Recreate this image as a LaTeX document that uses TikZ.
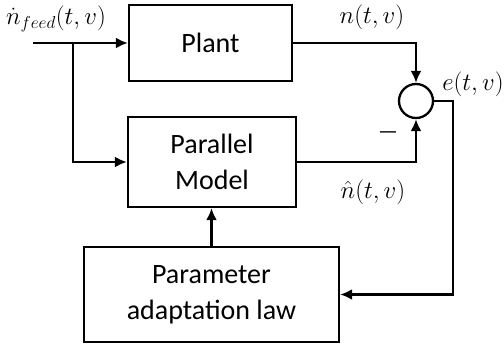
\documentclass[tikz,border=0pt]{standalone}
\usepackage{fontspec}
\setmainfont{Carlito}
\usetikzlibrary{arrows.meta}
\begin{document}
\begin{tikzpicture}[x=1pt,y=-1pt,line width=2.3pt,
  blk/.style={draw,rectangle,align=center,font=\fontsize{28}{36}\selectfont,inner sep=0pt},
  lbl/.style={font=\fontsize{23}{27}\selectfont,inner sep=0pt},
  arr/.style={-{Latex[length=12pt,width=11pt]}}]
\useasboundingbox (0,0) rectangle (504,345);
\node[blk,minimum width=163pt,minimum height=76pt] (plant) at (210.5,43) {Plant};
\node[blk,minimum width=168pt,minimum height=90pt] (model) at (212,162) {Parallel\\Model};
\node[blk,minimum width=255pt,minimum height=95pt] (adapt) at (211.5,294.5) {Parameter\\adaptation law};
\node[draw,circle,minimum size=34pt,inner sep=0pt] (sum) at (416,101) {};
\coordinate (in) at (33,43);
\coordinate (br) at (73,43);
\coordinate (fb) at (453,101);
\draw[arr] (in) -- (plant.west);
\draw[arr] (br) |- (model.west);
\draw[arr] (plant.east) -| (sum.north);
\draw[arr] (model.east) -| (sum.south);
\draw[arr] (sum.east) -- (fb) |- (adapt.east);
\draw[arr] (adapt.north) -- (adapt.north |- model.south);
\node[lbl] (lin) at (56,19) {$\dot{n}_{feed}(t,v)$};
\node[lbl] (lout) at (372,17) {$n(t,v)$};
\node[lbl] (lerr) at (473,84) {$e(t,v)$};
\node[lbl,font=\fontsize{22}{26}\selectfont] (lminus) at (388,135) {\textemdash};
\node[lbl] (lhat) at (373,192) {$\hat{n}(t,v)$};
\end{tikzpicture}
\end{document}
